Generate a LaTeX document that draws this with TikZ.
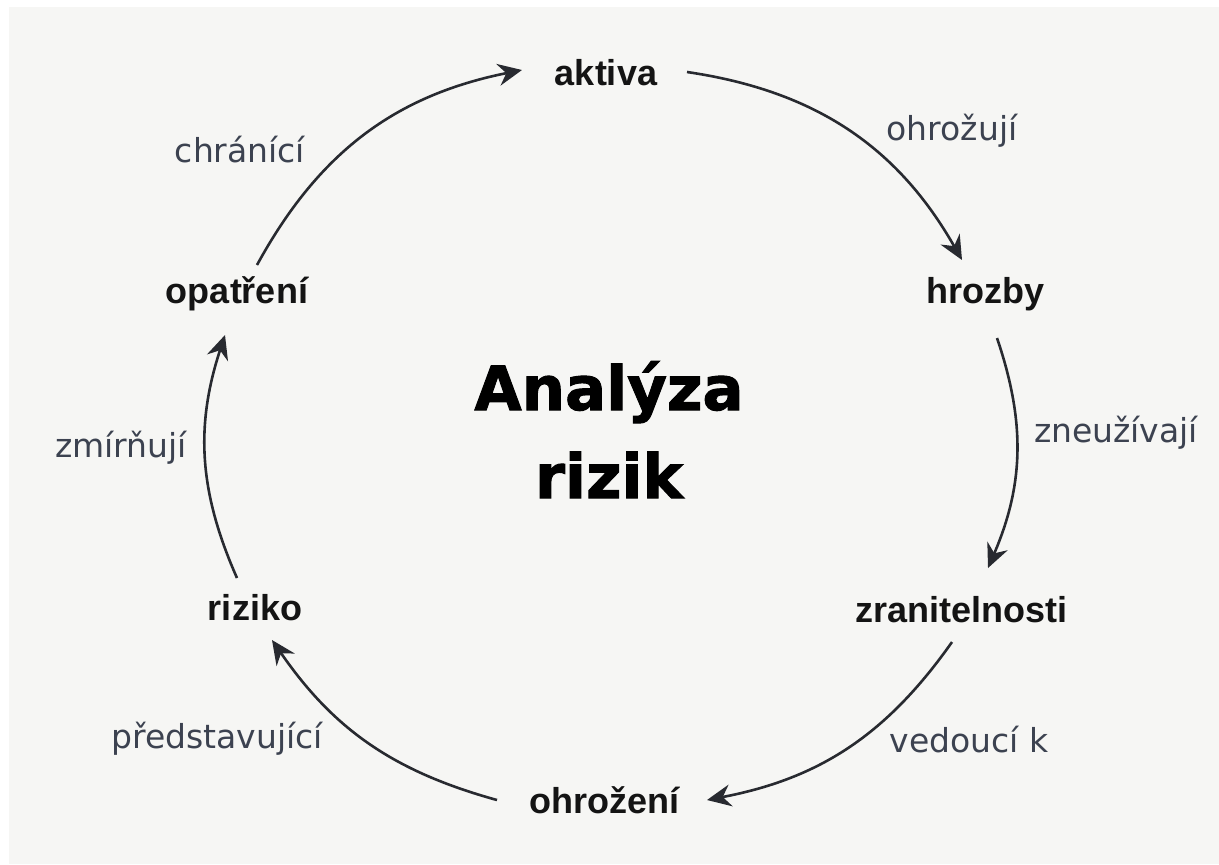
\documentclass[tikz,border=0pt]{standalone}
\usepackage{fontspec}
\setmainfont{Liberation Sans}
\newfontfamily\dejavu{DejaVu Sans}
\newfontfamily\heavyfont{DejaVu Sans Bold}[FakeBold=1.6]
\usetikzlibrary{arrows.meta}
\definecolor{bgpaper}{RGB}{246,246,244}
\definecolor{verbgray}{RGB}{60,66,80}
\definecolor{linegray}{RGB}{40,42,48}

\begin{document}
\begin{tikzpicture}[x=0.5pt, y=-0.5pt,
  concept/.style={anchor=base, inner sep=0pt, text=black!92,
    font=\fontsize{18pt}{20pt}\selectfont\bfseries},
  verb/.style={anchor=base, inner sep=0pt, text=verbgray,
    font=\dejavu\fontsize{16.5pt}{18pt}\selectfont},
  arr/.style={draw=linegray, line width=1.3pt,
    -{Stealth[length=12pt,width=11pt,inset=4pt]}}]
  \useasboundingbox (0,0) rectangle (1219,864);
  \fill [white] (0,0) rectangle (1219,864);
  \fill [bgpaper] (9,7) rectangle (1219,864);

  % base of the last line
  \node (title) [anchor=base, align=center,
    font=\heavyfont\fontsize{30.5pt}{44pt}\selectfont] at (609,498) {Analýza\\rizik};

  \node (aktiva) [concept] at (606,85) {aktiva};
  \node (hrozby) [concept] at (985,303) {hrozby};
  \node (zranitelnosti) [concept] at (961,622) {zranitelnosti};
  \node (ohrozeni) [concept] at (604,813) {ohrožení};
  \node (riziko) [concept] at (255,620) {riziko};
  \node (opatreni) [concept] at (237,303) {opatření};

  \draw [arr] ([shift={(81,-13)}]aktiva.base) to [bend left=26]
    ([shift={(-23,-43)}]hrozby.base);
    \node (ohrozuji) [verb] at (952,140) {ohrožují};
  \draw [arr] ([shift={(12,35)}]hrozby.base) to [bend left=21]
    ([shift={(27,-54)}]zranitelnosti.base);
    \node (zneuzivaji) [verb] at (1116,442) {zneužívají};
  \draw [arr] ([shift={(-9,20)}]zranitelnosti.base) to [bend left=22]
    ([shift={(103,-13)}]ohrozeni.base);
    \node (vedouci) [verb] at (969,752) {vedoucí k};
  \draw [arr] ([shift={(-107,-13)}]ohrozeni.base) to [bend left=20]
    ([shift={(17,20)}]riziko.base);
    \node (predstavujici) [verb] at (217,748) {představující};
  \draw [arr] ([shift={(-18,-42)}]riziko.base) to [bend left=21]
    ([shift={(-12,32)}]opatreni.base);
    \node (zmirnuji) [verb] at (121,457) {zmírňují};
  \draw [arr] ([shift={(20,-38)}]opatreni.base) to [bend left=25]
    ([shift={(-84,-15)}]aktiva.base);
    \node (chranici) [verb] at (240,162) {chránící};
\end{tikzpicture}
\end{document}
